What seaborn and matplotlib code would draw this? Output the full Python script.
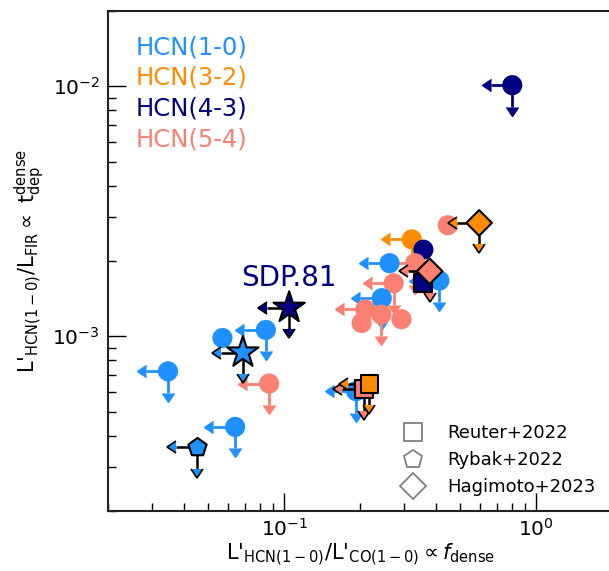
import matplotlib
matplotlib.use("Agg")
import matplotlib.pyplot as plt
import seaborn as sns
import pandas as pd
from matplotlib.lines import Line2D

# f_dense and t_dep^dense values
f_dense = [0.594, 0.446, 0.321, 0.357, 0.262, 0.331, 0.378, 0.357, 0.413, 0.272,
           0.244, 0.210, 0.243, 0.292, 0.203, 0.1047, 0.0846, 0.0569, 0.0686, 0.0346,
           0.0872, 0.207, 0.218, 0.193, 0.0639, 0.0453, 0.804]
t_dep = [2.84e-3, 2.78e-3, 2.44e-3, 2.22e-3, 1.96e-3, 1.96e-3, 1.82e-3, 1.63e-3, 1.67e-3, 1.63e-3,
         1.42e-3, 1.28e-3, 1.22e-3, 1.17e-3, 1.13e-3, 1.30e-3, 1.06e-3, 0.984e-3, 0.861e-3, 0.724e-3,
         0.647e-3, 0.614e-3, 0.646e-3, 0.603e-3, 0.434e-3, 0.359e-3, 1.01e-2]
line = ['HCN(3-2)', 'HCN(5-4)', 'HCN(3-2)', 'HCN(4-3)', 'HCN(1-0)', 'HCN(5-4)', 'HCN(5-4)', 'HCN(4-3)',
        'HCN(1-0)', 'HCN(5-4)', 'HCN(1-0)', 'HCN(5-4)', 'HCN(5-4)', 'HCN(5-4)', 'HCN(5-4)', 'HCN(4-3)',
        'HCN(1-0)', 'HCN(1-0)', 'HCN(1-0)', 'HCN(1-0)', 'HCN(5-4)', 'HCN(5-4)', 'HCN(3-2)', 'HCN(1-0)',
        'HCN(1-0)', 'HCN(1-0)', 'HCN(4-3)']
ref = ['Hagimoto+2023', 'lit', 'lit', 'lit', 'lit', 'lit', 'Hagimoto+2023', 'Reuter+2022', 'lit', 'lit',
       'lit', 'lit', 'lit', 'lit', 'lit', 'SDP.81', 'lit', 'lit', 'SDP.81', 'lit',
       'lit', 'Reuter+2022', 'Reuter+2022', 'lit', 'lit', 'Rybak+2022', 'lit']
x_limit = [1, 0, 1, 0, 1, 1, 1, 0, 1, 1, 1, 1, 0, 0, 0, 1, 1, 0, 1, 1, 1, 1, 1, 1, 1, 1, 1]
y_limit = [1, 0, 1, 0, 0, 1, 1, 0, 1, 1, 1, 0, 1, 0, 0, 1, 1, 0, 1, 1, 1, 1, 1, 1, 1, 1, 1]

transitions = ['HCN(1-0)', 'HCN(3-2)', 'HCN(4-3)', 'HCN(5-4)']
colors = {'HCN(1-0)': 'dodgerblue', 'HCN(3-2)': 'darkorange',
          'HCN(4-3)': 'navy', 'HCN(5-4)': 'salmon'}
markers = {'SDP.81': '*', 'Reuter+2022': 's', 'Rybak+2022': 'p', 'Hagimoto+2023': 'D'}
sizes = {'SDP.81': 560, 'Reuter+2022': 165, 'Rybak+2022': 190, 'Hagimoto+2023': 170}

df = pd.DataFrame({'x': f_dense, 'y': t_dep, 'line': line, 'ref': ref,
                   'xul': x_limit, 'yul': y_limit})

sns.set_style("ticks")
plt.rcParams['font.family'] = ['DejaVu Sans']
for k in ['text.color', 'axes.labelcolor', 'xtick.color', 'ytick.color']:
    plt.rcParams[k] = 'black'

fig = plt.figure(figsize=(6.09, 5.71), dpi=100)
ax = fig.add_axes([108 / 609, 60 / 571, 504 / 609, 500 / 571])
ax.set_xscale('log')
ax.set_yscale('log')

# upper-limit arrows
frac = 0.18
for _, r in df.iterrows():
    if not (r.xul or r.yul):
        continue
    c = colors[r.line]
    special = r.ref != 'lit'
    eb = ax.errorbar(r.x, r.y,
                     xerr=r.x * frac if r.xul else None,
                     yerr=r.y * frac if r.yul else None,
                     xuplims=bool(r.xul), uplims=bool(r.yul),
                     fmt='none', ecolor='k' if special else c,
                     elinewidth=1.8 if special else 2, capsize=4.4,
                     zorder=3 if special else 1)
    for cap in eb.lines[1]:
        cap.set_markerfacecolor(c)
        cap.set_markeredgecolor('k' if special else c)
        cap.set_markeredgewidth(1.2 if special else 1)

lit = df[df.ref == 'lit']
sns.scatterplot(data=lit, x='x', y='y', hue='line', palette=colors, s=210,
                linewidth=0, legend=False, ax=ax, zorder=2)
for name, m in markers.items():
    sub = df[df.ref == name]
    sns.scatterplot(data=sub, x='x', y='y', hue='line', palette=colors, marker=m,
                    s=sizes[name], edgecolor='k', linewidth=1.5, legend=False,
                    ax=ax, zorder=4)

ax.set_xlim(0.02, 2)
ax.set_ylim(2e-4, 2e-2)

# coloured transition labels
for i, t in enumerate(transitions):
    ax.text(0.054, 0.928 - i * 0.0615, t, color=colors[t], fontsize=17.5,
            transform=ax.transAxes, va='center', ha='left')

sdp = df[df.ref == 'SDP.81'].iloc[0]
ax.text(sdp.x, 1.71e-3, 'SDP.81', color='navy', fontsize=20, ha='center', va='center')

handles = [Line2D([], [], marker=markers[k], ls='none', mfc='none', mec='gray',
                  ms=13.5, mew=1.3) for k in ['Reuter+2022', 'Rybak+2022', 'Hagimoto+2023']]
ax.legend(handles, ['Reuter+2022', 'Rybak+2022', 'Hagimoto+2023'], loc='lower left',
          bbox_to_anchor=(0.569, 0.03), frameon=False, fontsize=13,
          handletextpad=0.9, borderpad=0, borderaxespad=0)

ax.tick_params(which='major', direction='in', length=13, width=1, labelsize=14.5,
               top=False, right=False, pad=6)
ax.tick_params(axis='x', which='major', pad=5)
ax.tick_params(which='minor', direction='in', length=6, width=1, top=False, right=False)
for s in ax.spines.values():
    s.set_linewidth(1.5)
    s.set_color('#222222')

ax.set_xlabel(r"L'$_{\rm HCN(1-0)}$/L'$_{\rm CO(1-0)}\propto f_{\rm dense}$", fontsize=15, labelpad=1)
ax.set_ylabel(r"L'$_{\rm HCN(1-0)}$/L$_{\rm FIR}\propto$ t$_{\rm dep}^{\rm dense}$", fontsize=15, labelpad=4)

fig.savefig('out.png', dpi=100)
plt.close()
